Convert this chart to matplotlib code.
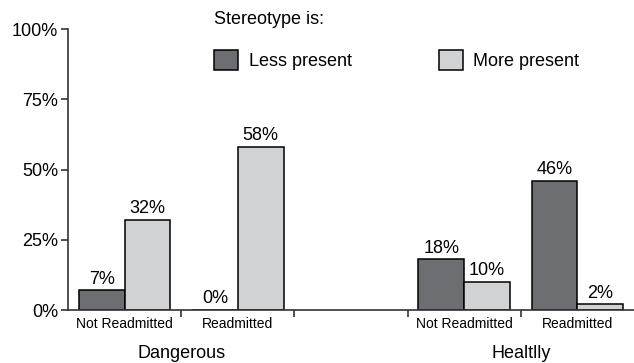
import matplotlib
matplotlib.use("Agg")
import matplotlib.pyplot as plt
from matplotlib.patches import Patch
import numpy as np

plt.rcParams["font.family"] = ["Liberation Sans", "DejaVu Sans"]

# 5 slots: Dangerous (NR, R), empty gap, Healtlly (NR, R)
slot_labels = ["Not Readmitted", "Readmitted", "", "Not Readmitted", "Readmitted"]
less_present = [7, 0, None, 18, 46]
more_present = [32, 58, None, 10, 2]
groups = ["Dangerous", "Healtlly"]
group_pos = [0.5, 3.5]
legend_names = ["Less present", "More present"]

dark = "#6d6e71"
light = "#d1d2d4"
axc = "#333333"

fig = plt.figure(figsize=(6.34, 3.63), dpi=100)
ax = fig.add_axes([0.1073, 0.146, 0.8927, 0.774])

w = 0.405
x = np.arange(len(slot_labels))
for i in range(len(slot_labels)):
    if less_present[i] is None:
        continue
    ax.bar(x[i] - w / 2, less_present[i], w, color=dark, edgecolor="black", linewidth=1.1)
    ax.bar(x[i] + w / 2, more_present[i], w, color=light, edgecolor="black", linewidth=1.1)
    ax.text(x[i] - w / 2, less_present[i] + 1, f"{less_present[i]}%", ha="center", va="bottom", fontsize=13)
    ax.text(x[i] + w / 2, more_present[i] + 1, f"{more_present[i]}%", ha="center", va="bottom", fontsize=13)

ax.set_xlim(-0.5, 4.5)
ax.set_ylim(0, 100)
for s in ["top", "right"]:
    ax.spines[s].set_visible(False)
for s in ["left", "bottom"]:
    ax.spines[s].set_color(axc)
    ax.spines[s].set_linewidth(1.2)

ax.set_yticks([0, 25, 50, 75, 100])
ax.set_yticklabels(["0%", "25%", "50%", "75%", "100%"], fontsize=13)
ax.tick_params(axis="y", length=5, width=1.2, color=axc, pad=2)

ax.set_xticks([0.5, 1.5, 2.5, 3.5])
ax.set_xticklabels([])
ax.tick_params(axis="x", which="major", length=5, width=1.2, color=axc)
ax.set_xticks(x, minor=True)
ax.set_xticklabels(slot_labels, minor=True, fontsize=10)
ax.tick_params(axis="x", which="minor", length=0, pad=5)

for g, p in zip(groups, group_pos):
    ax.text(p, -15.5, g, ha="center", va="center", fontsize=13)

fig.text(214 / 634, 1 - 20 / 363, "Stereotype is:", ha="left", va="center", fontsize=13)
handles = [Patch(facecolor=dark, edgecolor="black", linewidth=1.1),
           Patch(facecolor=light, edgecolor="black", linewidth=1.1)]
fig.legend(handles, legend_names, loc="center left", bbox_to_anchor=(214 / 634, 1 - 60 / 363),
           ncol=2, frameon=False, fontsize=13, handlelength=1.33, handleheight=1.33,
           handletextpad=0.6, columnspacing=4.8, borderaxespad=0, borderpad=0)

fig.savefig("out.png", dpi=100)
